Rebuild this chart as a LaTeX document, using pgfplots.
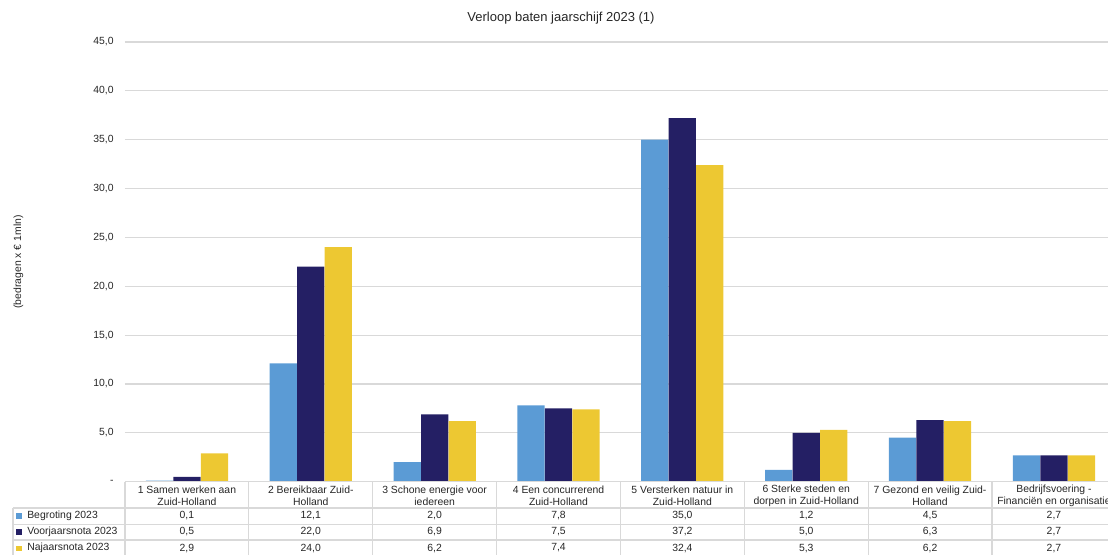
\documentclass[border=0pt]{standalone}
\usepackage{pgfplots}
\pgfplotsset{compat=1.18}
\usepackage{pgfplotstable}
\usepackage{fontspec}
\setmainfont{Liberation Sans}

\definecolor{cBeg}{HTML}{5B9BD5}
\definecolor{cVoor}{HTML}{241F64}
\definecolor{cNa}{HTML}{EDC832}
\definecolor{gridc}{HTML}{D9D9D9}
\definecolor{txt}{HTML}{262626}

% baten per programma (bedragen x EUR 1 mln)
\pgfplotstableread{
x beg voor na
0 0.1 0.5 2.9
1 12.1 22.0 24.0
2 2.0 6.9 6.2
3 7.8 7.5 7.4
4 35.0 37.2 32.4
5 1.2 5.0 5.3
6 4.5 6.3 6.2
7 2.7 2.7 2.7
}\data

\newcommand{\fnt}{\fontsize{7.8}{9.2}\selectfont}
\newcommand{\val}[1]{\pgfmathprintnumber[fixed,fixed zerofill,precision=1,use comma,assume math mode=true]{#1}}

\begin{document}
\begin{tikzpicture}[x=92.895pt, y=7.328pt]
\begin{axis}[
    at={(0,0)}, anchor=origin,
    scale only axis,
    width=743.16pt, height=329.76pt,
    xmin=-0.5, xmax=7.5,
    ymin=0, ymax=45,
    axis line style={draw=none},
    xtick=\empty,
    ytick={0,5,...,45},
    yticklabels={{-},{5,0},{10,0},{15,0},{20,0},{25,0},{30,0},{35,0},{40,0},{45,0}},
    major tick length=0pt,
    ymajorgrids,
    grid style={gridc, line width=0.8pt},
    tick label style={font=\fnt, text=txt},
    yticklabel style={xshift=-5pt},
    ybar,
    bar width=0.22,
]
\addplot[fill=cBeg, draw=none, bar shift=-0.222] table[x=x, y=beg] {\data};
\addplot[fill=cVoor, draw=none, bar shift=0] table[x=x, y=voor] {\data};
\addplot[fill=cNa, draw=none, bar shift=0.222] table[x=x, y=na] {\data};
\end{axis}

% titel en aslabel
\node[font=\fontsize{9.75}{12}\selectfont, text=txt] at (3.02,47.46) {Verloop baten jaarschijf 2023 (1)};
\node[font=\fnt, text=txt, rotate=90] at (-1.36,22.49) {(bedragen x € 1mln)};

% gegevenstabel
\begin{scope}[gridc, line width=0.8pt]
\draw (-0.5,0) -- (7.6,0);
\foreach \k in {0,...,8} \draw (-0.5+\k,0) -- (-0.5+\k,-7.6);
\foreach \yy in {-2.69,-4.38,-5.97} \draw (-1.404,\yy) -- (7.6,\yy);
\draw (-1.404,-2.69) -- (-1.404,-7.6);
\end{scope}

\foreach \k/\t in {
    0/{1 Samen werken aan\\Zuid-Holland},
    1/{2 Bereikbaar Zuid-\\Holland},
    2/{3 Schone energie voor\\iedereen},
    3/{4 Een concurrerend\\Zuid-Holland},
    4/{5 Versterken natuur in\\Zuid-Holland},
    5/{6 Sterke steden en\\dorpen in Zuid-Holland},
    6/{7 Gezond en veilig Zuid-\\Holland},
    7/{Bedrijfsvoering -\\Financiën en organisatie}}
  \node[font=\fnt, text=txt, align=center] at (\k,-1.47) {\t};

\foreach \k in {0,...,7}{
  \pgfplotstablegetelem{\k}{beg}\of\data
  \node[font=\fnt, text=txt] at (\k,-3.51) {\val{\pgfplotsretval}};
  \pgfplotstablegetelem{\k}{voor}\of\data
  \node[font=\fnt, text=txt] at (\k,-5.15) {\val{\pgfplotsretval}};
  \pgfplotstablegetelem{\k}{na}\of\data
  \node[font=\fnt, text=txt] at (\k,-6.79) {\val{\pgfplotsretval}};
}

\foreach \yy/\c/\t in {-3.51/cBeg/Begroting 2023, -5.15/cVoor/Voorjaarsnota 2023, -6.79/cNa/Najaarsnota 2023}{
  \node[fill=\c, minimum size=3.8pt, inner sep=0pt] at (-1.356,\yy) {};
  \node[font=\fnt, text=txt, anchor=west, inner sep=0pt] at (-1.291,\yy) {\t};
}

\pgfresetboundingbox
\useasboundingbox (-1.5092,-7.40) rectangle (7.4364,49.30);
\end{tikzpicture}
\end{document}
